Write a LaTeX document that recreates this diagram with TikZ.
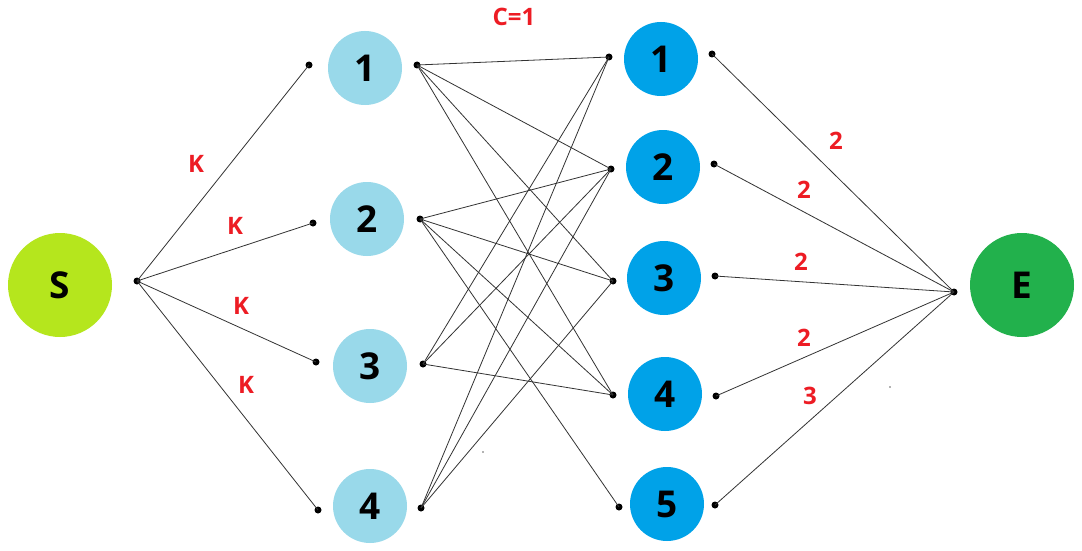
\documentclass[tikz,border=0pt]{standalone}
\usepackage{fontspec}
\setmainfont{Open Sans}
\definecolor{limeS}{RGB}{181,230,29}
\definecolor{lblue}{RGB}{153,217,234}
\definecolor{dblue}{RGB}{0,162,232}
\definecolor{greenE}{RGB}{34,177,76}
\definecolor{lblred}{RGB}{237,28,36}
\begin{document}
\begin{tikzpicture}[x=1pt,y=-1pt,
  big/.style={circle,inner sep=0pt,minimum size=104pt,font=\fontsize{37}{40}\selectfont\bfseries},
  mid/.style={circle,inner sep=0pt,minimum size=74pt,font=\fontsize{37}{40}\selectfont\bfseries},
  dot/.style={circle,fill=black,inner sep=0pt,minimum size=7pt},
  edge/.style={draw=black!80,line width=0.8pt},
  lbl/.style={text=lblred,font=\fontsize{24}{26}\selectfont\bfseries,inner sep=0pt}]
\useasboundingbox (0,0) rectangle (1082,551);
\fill[white] (0,0) rectangle (1082,551);
% main nodes
\node[big,fill=limeS] (S) at (60,285) {S};
\node[big,fill=greenE] (E) at (1022,285) {E};
\node[mid,fill=lblue] (L1) at (365,68) {1};
\node[mid,fill=lblue] (L2) at (367,219) {2};
\node[mid,fill=lblue] (L3) at (370,366) {3};
\node[mid,fill=lblue] (L4) at (370,506) {4};
\node[mid,fill=dblue] (R1) at (661,59) {1};
\node[mid,fill=dblue] (R2) at (663,167) {2};
\node[mid,fill=dblue] (R3) at (664,278) {3};
\node[mid,fill=dblue] (R4) at (665,394) {4};
\node[mid,fill=dblue] (R5) at (667,504) {5};
% dots
\node[dot] (sd) at (137,281) {};
\node[dot] (ed) at (954,292) {};
\node[dot] (l1a) at (309,65) {};
\node[dot] (l1b) at (417,65) {};
\node[dot] (l2a) at (313,223) {};
\node[dot] (l2b) at (420,219) {};
\node[dot] (l3a) at (316,362) {};
\node[dot] (l3b) at (423,364) {};
\node[dot] (l4a) at (318,510) {};
\node[dot] (l4b) at (421,508) {};
\node[dot] (r1a) at (609,57) {};
\node[dot] (r2a) at (611,169) {};
\node[dot] (r3a) at (613,281) {};
\node[dot] (r4a) at (613,395) {};
\node[dot] (r5a) at (619,507) {};
\node[dot] (r1b) at (712,54) {};
\node[dot] (r2b) at (714,164) {};
\node[dot] (r3b) at (715,276) {};
\node[dot] (r4b) at (716,396) {};
\node[dot] (r5b) at (715,505) {};
% edges
\foreach \t in {l1a,l2a,l3a,l4a} \draw[edge] (sd.center) -- (\t.center);
\foreach \t in {r1a,r2a,r3a,r4a} \draw[edge] (l1b.center) -- (\t.center);
\foreach \t in {r2a,r3a,r4a,r5a} \draw[edge] (l2b.center) -- (\t.center);
\foreach \t in {r1a,r2a,r4a} \draw[edge] (l3b.center) -- (\t.center);
\foreach \t in {r1a,r2a,r3a} \draw[edge] (l4b.center) -- (\t.center);
\foreach \t in {r1b,r2b,r3b,r4b,r5b} \draw[edge] (\t.center) -- (ed.center);
% labels
\node[lbl] (k1) at (196,164) {K};
\node[lbl] (k2) at (235,226) {K};
\node[lbl] (k3) at (241,306) {K};
\node[lbl] (k4) at (246,385) {K};
\node[lbl] (c1) at (514,17) {C=1};
\node[lbl] (w1) at (836,141) {2};
\node[lbl] (w2) at (804,190) {2};
\node[lbl] (w3) at (801,262) {2};
\node[lbl] (w4) at (804,338) {2};
\node[lbl] (w5) at (810,396) {3};
% stray specks
\fill[black!60] (890,387) circle (0.8);
\fill[black!60] (483,452) circle (0.8);
\end{tikzpicture}
\end{document}
